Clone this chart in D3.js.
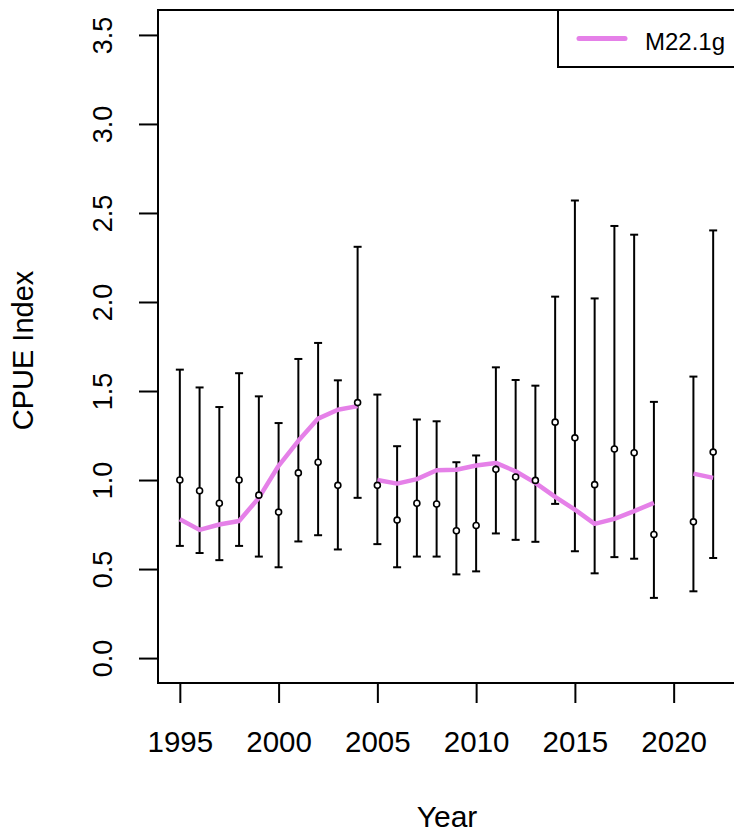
<!DOCTYPE html>
<html>
<head>
<meta charset="utf-8">
<script src="https://cdn.jsdelivr.net/npm/d3@7"></script>
<style>
  html, body { margin: 0; padding: 0; background: #fff; }
  svg { display: block; }
  text { font-family: "Liberation Sans", Arial, Helvetica, sans-serif; fill: #000; }
</style>
</head>
<body>
<svg id="chart" width="734" height="834"></svg>
<script>
// Standardised CPUE index by year, with confidence limits
const years = [1995, 1996, 1997, 1998, 1999, 2000, 2001, 2002, 2003, 2004,
               2005, 2006, 2007, 2008, 2009, 2010, 2011, 2012, 2013, 2014,
               2015, 2016, 2017, 2018, 2019, 2021, 2022];
const cpueIndex = [1.00, 0.94, 0.87, 1.00, 0.915, 0.82, 1.04, 1.10, 0.97, 1.435,
                   0.97, 0.775, 0.87, 0.865, 0.715, 0.745, 1.06, 1.017, 0.998, 1.325,
                   1.237, 0.974, 1.174, 1.153, 0.694, 0.765, 1.157];
const lowerCI = [0.63, 0.59, 0.55, 0.63, 0.57, 0.51, 0.655, 0.69, 0.61, 0.90,
                 0.64, 0.51, 0.57, 0.57, 0.47, 0.487, 0.70, 0.664, 0.653, 0.866,
                 0.60, 0.476, 0.567, 0.558, 0.338, 0.375, 0.562];
const upperCI = [1.62, 1.52, 1.41, 1.60, 1.47, 1.32, 1.68, 1.77, 1.56, 2.31,
                 1.48, 1.19, 1.34, 1.33, 1.10, 1.138, 1.633, 1.562, 1.53, 2.03,
                 2.57, 2.02, 2.427, 2.378, 1.439, 1.581, 2.402];

// Model M22.1g fitted trend, drawn separately for each period
const fitValues = [0.78, 0.72, 0.75, 0.77, 0.90, 1.08, 1.22, 1.345, 1.395, 1.415,
                   1.00, 0.98, 1.005, 1.055, 1.058, 1.082, 1.096, 1.049, 0.984, 0.905,
                   0.834, 0.754, 0.782, 0.825, 0.872, 1.036, 1.012];
const fitPeriod = ["A", "A", "A", "A", "A", "A", "A", "A", "A", "A",
                   "B", "B", "B", "B", "B", "B", "B", "B", "B", "B",
                   "B", "B", "B", "B", "B", "C", "C"];
const seriesName = "M22.1g";

const xTicks = [1995, 2000, 2005, 2010, 2015, 2020];
const yTicks = [0.0, 0.5, 1.0, 1.5, 2.0, 2.5, 3.0, 3.5];

const svg = d3.select("#chart");
const plot = { left: 158, right: 736, top: 10, bottom: 683 };

const x = d3.scaleLinear().domain([1993.92, 2023.08]).range([158.5, 734.5]);
const y = d3.scaleLinear().domain([-0.14, 3.64]).range([plot.bottom, plot.top]);

const rows = years.map((yr, i) => ({
  year: yr, v: cpueIndex[i], lo: lowerCI[i], hi: upperCI[i],
  fit: fitValues[i], period: fitPeriod[i]
}));

// x axis
const xAxis = svg.append("g")
  .attr("transform", `translate(0,${plot.bottom})`)
  .call(d3.axisBottom(x).tickValues(xTicks).tickFormat(d3.format("d")).tickSize(20).tickPadding(0));
xAxis.select(".domain").remove();
xAxis.selectAll(".tick line").attr("stroke", "#000").attr("stroke-width", 2);
xAxis.selectAll(".tick text")
  .attr("y", 69).attr("dy", null)
  .style("font-size", "29.5px");

// y axis with rotated labels
const yAxis = svg.append("g")
  .attr("transform", `translate(${plot.left},0)`)
  .call(d3.axisLeft(y).tickValues(yTicks).tickFormat(d3.format(".1f")).tickSize(19));
yAxis.select(".domain").remove();
yAxis.selectAll(".tick line").attr("stroke", "#000").attr("stroke-width", 2);
yAxis.selectAll(".tick text")
  .attr("x", null).attr("dy", null)
  .attr("text-anchor", "middle")
  .attr("transform", "translate(-46,0) rotate(-90)")
  .style("font-size", "27px");

// plot frame
svg.append("rect")
  .attr("x", plot.left).attr("y", plot.top)
  .attr("width", plot.right - plot.left).attr("height", plot.bottom - plot.top)
  .attr("fill", "none").attr("stroke", "#000").attr("stroke-width", 2);

// confidence interval bars
const bars = svg.append("g").attr("stroke", "#000").attr("stroke-width", 2);
bars.selectAll("line.ci").data(rows).join("line")
  .attr("class", "ci")
  .attr("x1", d => x(d.year)).attr("x2", d => x(d.year))
  .attr("y1", d => y(d.lo)).attr("y2", d => y(d.hi));
bars.selectAll("line.capHi").data(rows).join("line")
  .attr("class", "capHi")
  .attr("x1", d => x(d.year) - 4).attr("x2", d => x(d.year) + 4)
  .attr("y1", d => y(d.hi)).attr("y2", d => y(d.hi));
bars.selectAll("line.capLo").data(rows).join("line")
  .attr("class", "capLo")
  .attr("x1", d => x(d.year) - 4).attr("x2", d => x(d.year) + 4)
  .attr("y1", d => y(d.lo)).attr("y2", d => y(d.lo));

// fitted trend, one path per period
const line = d3.line().x(d => x(d.year)).y(d => y(d.fit));
const periods = d3.groups(rows, d => d.period);
svg.append("g").selectAll("path").data(periods).join("path")
  .attr("d", d => line(d[1]))
  .attr("fill", "none")
  .attr("stroke", "#E580E8")
  .attr("stroke-width", 4.5)
  .attr("stroke-linejoin", "round");

// index points
svg.append("g").selectAll("circle").data(rows).join("circle")
  .attr("cx", d => x(d.year)).attr("cy", d => y(d.v))
  .attr("r", 3)
  .attr("fill", "#fff").attr("stroke", "#000").attr("stroke-width", 1.6);

// legend
const legend = svg.append("g");
legend.append("rect")
  .attr("x", 558).attr("y", plot.top)
  .attr("width", plot.right - 558).attr("height", 57)
  .attr("fill", "#fff").attr("stroke", "#000").attr("stroke-width", 2);
legend.append("line")
  .attr("x1", 579).attr("x2", 625).attr("y1", 38.5).attr("y2", 38.5)
  .attr("stroke", "#E580E8").attr("stroke-width", 5).attr("stroke-linecap", "round");
legend.append("text")
  .attr("x", 645).attr("y", 50)
  .style("font-size", "24px")
  .text(seriesName);

// axis titles
svg.append("text")
  .attr("x", (plot.left + plot.right) / 2).attr("y", 827)
  .attr("text-anchor", "middle")
  .style("font-size", "30px")
  .text("Year");
svg.append("text")
  .attr("transform", `translate(33,${(plot.top + plot.bottom) / 2 + 4}) rotate(-90)`)
  .attr("text-anchor", "middle")
  .style("font-size", "29px")
  .text("CPUE Index");
</script>
</body>
</html>
